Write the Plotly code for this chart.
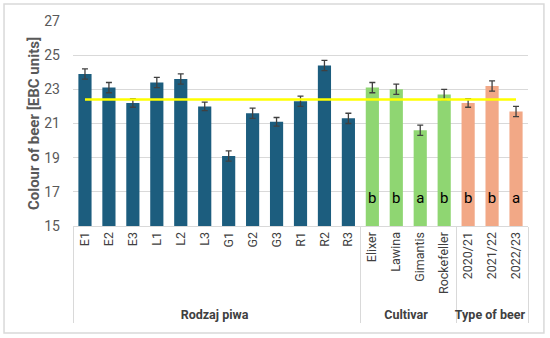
import plotly.graph_objects as go

groups = ["<b>Rodzaj piwa</b>"] * 12 + ["<b>Cultivar</b>"] * 4 + ["<b>Type of beer</b>"] * 3
categories = ["E1", "E2", "E3", "L1", "L2", "L3", "G1", "G2", "G3", "R1", "R2", "R3",
              "Elixer", "Lawina", "Gimantis", "Rockefeller", "2020/21", "2021/22", "2022/23"]
values = [23.9, 23.1, 22.2, 23.4, 23.6, 22.0, 19.1, 21.6, 21.1, 22.3, 24.4, 21.3,
          23.1, 23.0, 20.6, 22.7, 22.2, 23.2, 21.7]
errors = [0.3, 0.3, 0.25, 0.3, 0.3, 0.25, 0.3, 0.3, 0.25, 0.3, 0.3, 0.3,
          0.3, 0.3, 0.3, 0.3, 0.25, 0.3, 0.3]
letters = [""] * 12 + ["b", "b", "a", "b", "b", "b", "a"]
mean_value = 22.4
letter_y = 16.55

colors = ["#1c5d7e"] * 12 + ["#8fd672"] * 4 + ["#f2a886"] * 3

fig = go.Figure()
fig.add_trace(go.Bar(
    x=[groups, categories], y=values,
    marker=dict(color=colors, line=dict(width=0)),
    error_y=dict(type="data", array=errors, color="#404040", thickness=1.3, width=3),
    showlegend=False,
))
fig.add_trace(go.Scatter(
    x=[[groups[0], groups[-1]], [categories[0], categories[-1]]],
    y=[mean_value, mean_value], mode="lines",
    line=dict(color="#ffff00", width=2.5), showlegend=False,
))
fig.add_trace(go.Scatter(
    x=[groups, categories], y=[letter_y] * len(categories), mode="text",
    text=letters, textfont=dict(size=15, color="#000000", family="Roboto"),
    showlegend=False,
))

fig.update_layout(
    width=550, height=338,
    margin=dict(l=73, r=22, t=21, b=112, autoexpand=False),
    paper_bgcolor="white", plot_bgcolor="white",
    bargap=0.45,
    font=dict(family="Roboto", color="#595959"),
    xaxis=dict(
        type="multicategory", range=[-0.5, len(categories) - 0.5],
        tickangle=-90, tickfont=dict(size=12.5, color="#404040"),
        showline=True, linecolor="#d9d9d9", linewidth=1,
        showdividers=True, dividercolor="#d9d9d9", dividerwidth=1,
        automargin=False, ticks="",
    ),
    yaxis=dict(
        range=[15, 27], dtick=2, tick0=15, showgrid=True, gridcolor="#d9d9d9",
        gridwidth=1, zeroline=False, tickfont=dict(size=14, color="#595959"),
        ticklabelstandoff=12,
        title=dict(text="<b>Colour of beer [EBC units]</b>", font=dict(size=15, color="#595959"), standoff=1),
        automargin=False,
    ),
    shapes=[dict(type="rect", xref="paper", yref="paper", x0=-0.1516, x1=1.035, y0=-0.522, y1=1.083,
                 line=dict(color="#d9d9d9", width=1.5), fillcolor="rgba(0,0,0,0)")],
)

fig.write_html("out.html", config={"displayModeBar": False},
               post_script="document.body.style.margin='0';")
